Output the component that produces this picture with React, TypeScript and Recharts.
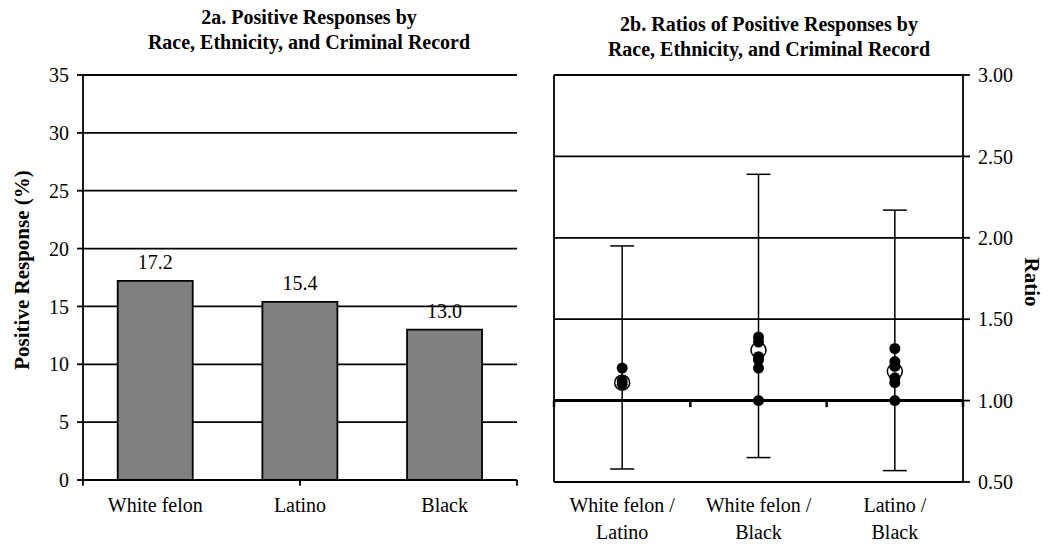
import React from "react";
import {
  BarChart,
  Bar,
  XAxis,
  YAxis,
  CartesianGrid,
  LabelList,
  ReferenceLine,
  ScatterChart,
  Scatter,
  ErrorBar,
} from "recharts";

const FONT = '"Liberation Serif", "Times New Roman", serif';

// 2a
const groups = ["White felon", "Latino", "Black"];
const positivePct = [17.2, 15.4, 13.0];
const pctTicks = [0, 5, 10, 15, 20, 25, 30, 35];
const groupEdges = [0, 1, 2, 3];

// 2b
const ratioPairs = ["White felon / Latino", "White felon / Black", "Latino / Black"];
const ratioPos = [0.5, 1.5, 2.5];
const ratioMean = [1.11, 1.31, 1.18];
const ratioLow = [0.58, 0.65, 0.57];
const ratioHigh = [1.95, 2.39, 2.17];
const ratioDots = [
  [1.2, 1.12, 1.1],
  [1.39, 1.36, 1.27, 1.25, 1.2, 1.0],
  [1.32, 1.24, 1.21, 1.14, 1.11, 1.0],
];
const ratioTicks = [0.5, 1, 1.5, 2, 2.5, 3];

const tickStyle = { fill: "#000", fontSize: 20, fontFamily: FONT };
const line = { stroke: "#000", strokeWidth: 1.8 };

function PairTick(props: any) {
  const { x, y, payload } = props;
  const i = ratioPos.indexOf(payload.value);
  const parts = ratioPairs[i].split(" / ");
  return (
    <text x={x} y={y} textAnchor="middle" fill="#000" fontSize={20} fontFamily={FONT}>
      <tspan x={x} dy={30}>{parts[0] + " /"}</tspan>
      <tspan x={x} dy={27}>{parts[1]}</tspan>
    </text>
  );
}

const Title = ({ lines, cx, top }: { lines: string[]; cx: number; top: number }) => (
  <div
    style={{
      position: "absolute",
      left: cx,
      top,
      transform: "translateX(-50%)",
      textAlign: "center",
      fontFamily: FONT,
      fontWeight: "bold",
      fontSize: 20,
      lineHeight: "25px",
      whiteSpace: "nowrap",
    }}
  >
    {lines.map((l) => (
      <div key={l}>{l}</div>
    ))}
  </div>
);

const AxisTitle = ({ text, x, y, angle }: { text: string; x: number; y: number; angle: number }) => (
  <div
    style={{
      position: "absolute",
      left: x,
      top: y,
      transform: `translate(-50%, -50%) rotate(${angle}deg)`,
      fontFamily: FONT,
      fontWeight: "bold",
      fontSize: 21,
      whiteSpace: "nowrap",
    }}
  >
    {text}
  </div>
);

export default function App() {
  const barData = groups.map((g, i) => ({ group: g, pct: positivePct[i] }));
  const meanData = ratioPos.map((x, i) => ({
    x,
    y: ratioMean[i],
    err: [ratioMean[i] - ratioLow[i], ratioHigh[i] - ratioMean[i]],
  }));
  const dotData = ratioDots.flatMap((ys, i) => ys.map((y) => ({ x: ratioPos[i], y })));

  return (
    <div style={{ position: "absolute", left: 0, top: 0, width: 1050, height: 552, background: "#fff" }}>
      <Title lines={["2a. Positive Responses by", "Race, Ethnicity, and Criminal Record"]} cx={309} top={5} />
      <Title lines={["2b. Ratios of Positive Responses by", "Race, Ethnicity, and Criminal Record"]} cx={769} top={12} />
      <AxisTitle text="Positive Response (%)" x={22} y={270} angle={-90} />
      <AxisTitle text="Ratio" x={1031} y={282} angle={90} />

      <div style={{ position: "absolute", left: 0, top: 0 }}>
        <BarChart
          width={530}
          height={552}
          data={barData}
          margin={{ top: 75, right: 13, bottom: 0, left: 0 }}
          barCategoryGap="24%"
        >
          <CartesianGrid vertical={false} stroke="#000" strokeWidth={1.8} />
          <XAxis
            dataKey="group"
            interval={0}
            height={72}
            tickLine={false}
            tickMargin={12}
            axisLine={line}
            tick={tickStyle}
          />
          <XAxis xAxisId="edge" type="number" domain={[0, 3]} allowDataOverflow hide />
          <YAxis
            domain={[0, 35]}
            ticks={pctTicks}
            width={83}
            tickSize={6}
            tickMargin={8}
            axisLine={line}
            tickLine={line}
            tick={tickStyle}
          />
          <ReferenceLine xAxisId="edge" x={3} stroke="#000" strokeWidth={1.8} ifOverflow="visible" />
          {groupEdges.map((e) => (
            <ReferenceLine
              key={e}
              xAxisId="edge"
              segment={[{ x: e, y: 0 }, { x: e, y: -0.5 }]}
              stroke="#000"
              strokeWidth={1.8}
              ifOverflow="visible"
            />
          ))}
          <Bar dataKey="pct" fill="#808080" stroke="#000" strokeWidth={1.8} isAnimationActive={false}>
            <LabelList
              dataKey="pct"
              position="top"
              offset={12}
              formatter={(v: any) => Number(v).toFixed(1)}
              fill="#000"
              fontSize={20}
              fontFamily={FONT}
            />
          </Bar>
        </BarChart>
      </div>

      <div style={{ position: "absolute", left: 530, top: 0 }}>
        <ScatterChart width={520} height={552} margin={{ top: 75, right: 0, bottom: 0, left: 24 }}>
          <CartesianGrid vertical={false} stroke="#000" strokeWidth={1.8} />
          <XAxis
            type="number"
            dataKey="x"
            domain={[0, 3]}
            ticks={ratioPos}
            interval={0}
            height={70}
            tickLine={false}
            tickSize={0}
            tickMargin={0}
            axisLine={line}
            tick={<PairTick />}
          />
          <YAxis
            type="number"
            dataKey="y"
            orientation="right"
            domain={[0.5, 3]}
            ticks={ratioTicks}
            tickFormatter={(v: number) => v.toFixed(2)}
            width={87}
            tickSize={7}
            tickMargin={8}
            axisLine={line}
            tickLine={line}
            tick={tickStyle}
          />
          <ReferenceLine x={0} stroke="#000" strokeWidth={1.8} />
          <ReferenceLine y={1} stroke="#000" strokeWidth={3} />
          {groupEdges.map((e) => (
            <ReferenceLine
              key={e}
              segment={[{ x: e, y: 1 }, { x: e, y: 0.96 }]}
              stroke="#000"
              strokeWidth={2.5}
              ifOverflow="visible"
            />
          ))}
          <Scatter
            data={meanData}
            isAnimationActive={false}
            shape={(p: any) => (
              <circle cx={p.cx} cy={p.cy} r={7.5} fill="#fff" stroke="#000" strokeWidth={1.5} />
            )}
          >
            <ErrorBar dataKey="err" direction="y" width={12} stroke="#000" strokeWidth={1.5} isAnimationActive={false} />
          </Scatter>
          <Scatter
            data={dotData}
            isAnimationActive={false}
            shape={(p: any) => <circle cx={p.cx} cy={p.cy} r={5.5} fill="#000" />}
          />
        </ScatterChart>
      </div>
    </div>
  );
}
